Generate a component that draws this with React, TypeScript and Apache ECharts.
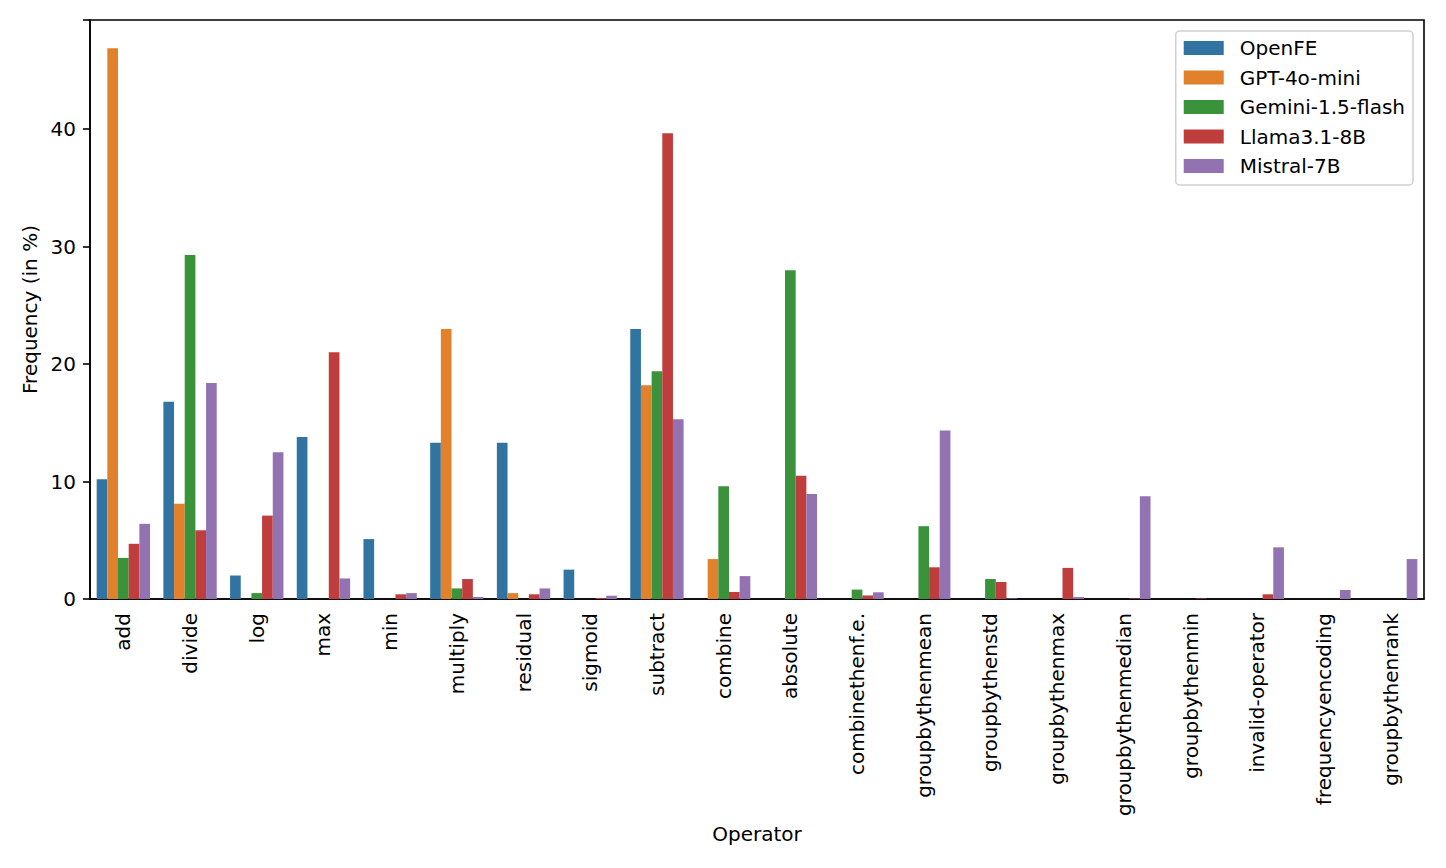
import React, { useEffect, useRef } from "react";
import * as echarts from "echarts";

const categories = [
  "add", "divide", "log", "max", "min", "multiply", "residual", "sigmoid", "subtract",
  "combine", "absolute", "combinethenf.e.", "groupbythenmean", "groupbythenstd",
  "groupbythenmax", "groupbythenmedian", "groupbythenmin", "invalid-operator",
  "frequencyencoding", "groupbythenrank",
];

const openFE = [10.2, 16.8, 2.0, 13.8, 5.1, 13.3, 13.3, 2.5, 23.0, 0, 0, 0, 0, 0, 0, 0, 0, 0, 0, 0];
const gpt4oMini = [46.9, 8.1, 0, 0, 0, 23.0, 0.5, 0, 18.2, 3.4, 0, 0, 0, 0, 0, 0, 0, 0, 0, 0];
const gemini15Flash = [3.5, 29.3, 0.5, 0, 0, 0.9, 0, 0, 19.4, 9.6, 28.0, 0.8, 6.2, 1.7, 0, 0, 0, 0, 0, 0];
const llama31_8B = [4.7, 5.85, 7.1, 21.0, 0.4, 1.7, 0.4, 0.08, 39.65, 0.6, 10.5, 0.3, 2.7, 1.45, 2.65, 0.05, 0.05, 0.4, 0, 0];
const mistral7B = [6.4, 18.4, 12.5, 1.75, 0.5, 0.17, 0.9, 0.28, 15.3, 1.95, 8.95, 0.57, 14.35, 0.05, 0.17, 8.75, 0, 4.4, 0.77, 3.4];

const seriesNames = ["OpenFE", "GPT-4o-mini", "Gemini-1.5-flash", "Llama3.1-8B", "Mistral-7B"];
const seriesValues = [openFE, gpt4oMini, gemini15Flash, llama31_8B, mistral7B];
const colors = ["#3274a1", "#e1812c", "#3a923a", "#c03d3e", "#9372b2"];
const yTicks = [0, 10, 20, 30, 40];

const FONT = "DejaVu Sans";

export default function App() {
  const ref = useRef<HTMLDivElement>(null);
  useEffect(() => {
    if (!ref.current) return;
    const chart = echarts.init(ref.current, undefined, { renderer: "svg" });
    chart.setOption({
      animation: false,
      textStyle: { fontFamily: FONT, color: "#000" },
      grid: {
        left: 82,
        right: 14,
        top: 12,
        bottom: 261,
        show: true,
        borderColor: "#000",
        borderWidth: 1.6,
        backgroundColor: "transparent",
      },
      legend: {
        orient: "vertical",
        right: 25,
        top: 23,
        padding: [7, 8, 9, 8],
        itemWidth: 40,
        itemHeight: 14,
        itemGap: 9.5,
        borderColor: "#d0d0d0",
        borderWidth: 1.5,
        borderRadius: 4,
        backgroundColor: "#fff",
        icon: "rect",
        textStyle: { fontFamily: FONT, fontSize: 20, color: "#000", padding: [0, 0, 0, 11] },
        data: seriesNames,
      },
      xAxis: {
        type: "category",
        data: categories,
        name: "Operator",
        nameLocation: "middle",
        nameGap: 224,
        nameTextStyle: { fontFamily: FONT, fontSize: 20, color: "#000", verticalAlign: "top" },
        axisLine: { lineStyle: { color: "#000", width: 1.6 } },
        axisTick: { alignWithLabel: true, length: 7, lineStyle: { color: "#000", width: 1.6 } },
        axisLabel: {
          rotate: 90,
          interval: 0,
          margin: 14,
          fontFamily: FONT,
          fontSize: 20,
          color: "#000",
        },
        splitLine: { show: false },
      },
      yAxis: {
        type: "value",
        min: 0,
        max: 49.3,
        interval: 10,
        name: "Frequency (in %)",
        nameLocation: "middle",
        nameGap: 48,
        nameTextStyle: { fontFamily: FONT, fontSize: 20, color: "#000" },
        axisLine: { show: true, lineStyle: { color: "#000", width: 1.6 } },
        axisTick: { show: true, length: 7, lineStyle: { color: "#000", width: 1.6 } },
        axisLabel: {
          margin: 14,
          fontFamily: FONT,
          fontSize: 20,
          color: "#000",
          formatter: (v: number) => (yTicks.includes(v) ? String(v) : ""),
        },
        splitLine: { show: false },
      },
      series: seriesNames.map((name, i) => ({
        name,
        type: "bar",
        data: seriesValues[i],
        barWidth: "16%",
        barGap: "0%",
        itemStyle: { color: colors[i] },
      })),
    });
    return () => chart.dispose();
  }, []);
  return <div ref={ref} style={{ width: 1430, height: 852 }} />;
}
